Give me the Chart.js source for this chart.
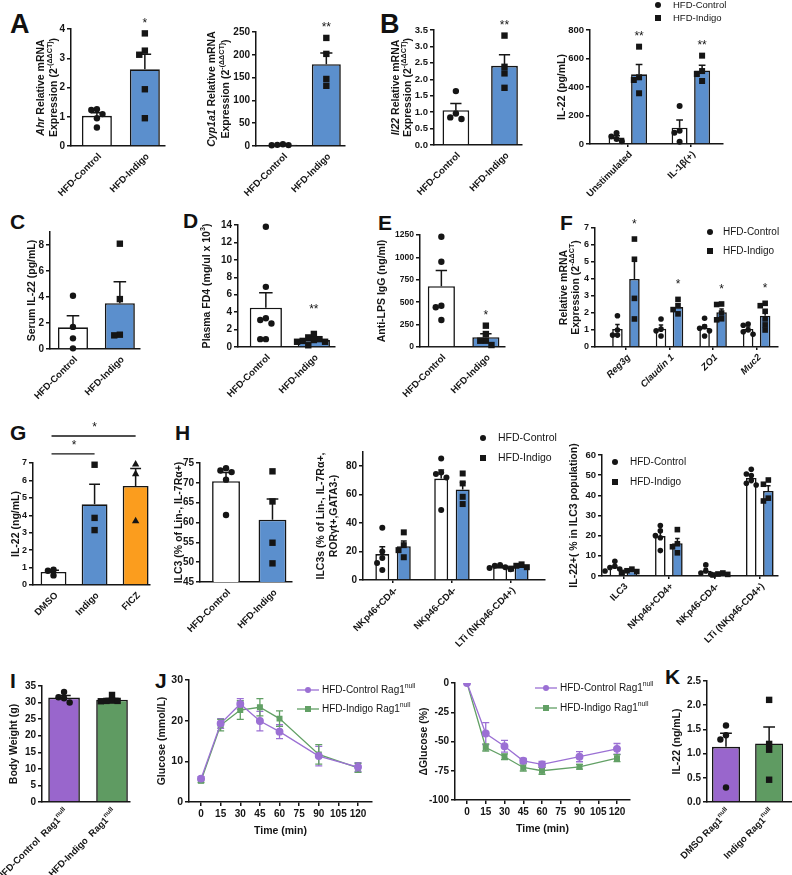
<!DOCTYPE html>
<html>
<head>
<meta charset="utf-8">
<script src="https://cdn.jsdelivr.net/npm/chart.js@4.4.1/dist/chart.umd.min.js"></script>
<style>
  body { margin: 0; background: #fff; }
  #fig { position: relative; width: 792px; height: 875px; overflow: hidden; font-family: "Liberation Sans", Arial, sans-serif; }
  #fig canvas { position: absolute; }
  .lt { position: absolute; font-weight: bold; font-size: 21px; line-height: 21px; color: #111; }
  .big { font-size: 27px; line-height: 27px; }
</style>
</head>
<body>
<div id="fig">
  <div class="lt big" style="left:10px;top:11px">A</div>
  <div class="lt big" style="left:380px;top:11px">B</div>
  <div class="lt" style="left:10px;top:211px">C</div>
  <div class="lt" style="left:183px;top:210px">D</div>
  <div class="lt" style="left:378px;top:212px">E</div>
  <div class="lt" style="left:560px;top:212px">F</div>
  <div class="lt" style="left:10px;top:422px">G</div>
  <div class="lt" style="left:175px;top:422px">H</div>
  <div class="lt" style="left:10px;top:670px">I</div>
  <div class="lt" style="left:155px;top:670px">J</div>
  <div class="lt" style="left:665px;top:666px">K</div>
</div>
<script>
// ---------- data ----------
const dietGroups = ['HFD-Control', 'HFD-Indigo'];

// A: Ahr / Cyp1a1 mRNA
const ahrMean = [1.03, 2.62];
const ahrSem = [0.11, 0.52];
const ahrCtrlPts = [1.26, 1.23, 1.09, 0.95, 0.63];
const ahrIndPts = [3.85, 3.26, 3.12, 1.94, 0.95];
const ahrStars = ['', '*'];

const cypMean = [2.5, 179.5];
const cypSem = [0.8, 24.4];
const cypCtrlPts = [4, 2.5, 2, 1.5];
const cypIndPts = [237, 202, 147, 132];
const cypStars = ['', '**'];

// B: Il22 mRNA and IL-22 secretion
const il22Mean = [1.06, 2.41];
const il22Sem = [0.2, 0.34];
const il22CtrlPts = [1.64, 0.96, 0.84, 0.79];
const il22IndPts = [3.33, 2.38, 2.18, 1.74];
const il22Stars = ['', '**'];

const stimLabels = ['Unstimulated', 'IL-1β(+)'];
const stimCtrlMean = [46, 114];
const stimCtrlSem = [12, 54];
const stimCtrlPts = [[78, 52, 35, 20], [267, 93, 79, 16]];
const stimIndMean = [489, 516];
const stimIndSem = [69, 37];
const stimIndPts = [[683, 468, 449, 356], [620, 512, 491, 442]];
const stimIndStars = ['**', '**'];

// C, D, E
const serumMean = [1.67, 3.52];
const serumSem = [0.88, 1.66];
const serumCtrlPts = [4.1, 1.7, 0.82, 0.05];
const serumIndPts = [8.1, 3.84, 1.1, 1.05];

const fd4Mean = [4.51, 0.8];
const fd4Sem = [1.72, 0.14];
const fd4CtrlPts = [13.8, 6.9, 3.3, 3.1, 2.7, 0.9, 0.9];
const fd4IndPts = [1.5, 1.1, 0.9, 0.8, 0.7, 0.6, 0.6, 0.2];
const fd4Stars = ['', '**'];

const lpsMean = [678, 109];
const lpsSem = [177, 38];
const lpsCtrlPts = [1231, 952, 461, 443, 301];
const lpsIndPts = [238, 145, 70, 70, 22];
const lpsStars = ['', '*'];

// F: barrier genes
const geneLabels = ['Reg3g', 'Claudin 1', 'ZO1', 'Muc2'];
const geneCtrlMean = [1.06, 1.08, 1.12, 1.06];
const geneCtrlSem = [0.27, 0.21, 0.17, 0.12];
const geneCtrlPts = [[1.84, 1.0, 0.7, 0.7], [1.65, 1.05, 0.95, 0.65], [1.69, 1.2, 1.1, 0.95, 0.65], [1.35, 1.28, 1.0, 0.9, 0.75]];
const geneIndMean = [4.0, 2.35, 2.05, 1.84];
const geneIndSem = [1.07, 0.18, 0.19, 0.25];
const geneIndPts = [[6.35, 5.16, 2.86, 1.65], [2.8, 2.43, 2.2, 1.95], [2.53, 2.5, 2.0, 1.66, 1.6], [2.57, 2.43, 2.1, 1.65, 1.3, 1.0]];
const geneIndStars = ['*', '*', '*', '*'];

// G: IL-22 after treatment
const treatLabels = ['DMSO', 'Indigo', 'FICZ'];
const treatMean = [0.75, 4.63, 5.68];
const treatSem = [0.1, 1.15, 1.0];
const treatPts = [[0.88, 0.82, 0.55], [6.9, 3.85, 3.15], [6.95, 6.4, 3.7]];

// H: ILC3 populations
const ilc3Mean = [70.4, 60.7];
const ilc3Sem = [2.2, 5.2];
const ilc3CtrlPts = [73.7, 73.1, 72.7, 70.8, 61.9];
const ilc3IndPts = [72.9, 65.3, 54.9, 49.7];

const subsetLabels = ['NKp46+CD4-', 'NKp46-CD4-', 'LTi (NKp46-CD4+)'];
const subCtrlMean = [18.2, 71.3, 9.1];
const subCtrlSem = [5.1, 6.0, 0.5];
const subCtrlPts = [[36.8, 20, 15.4, 11.9, 7], [85.4, 75.5, 74.5, 72, 49.2], [10.5, 10, 9, 8.5, 7.5]];
const subIndMean = [23.75, 63.7, 9.5];
const subIndSem = [3.7, 4.8, 0.65];
const subIndPts = [[33.5, 24.5, 21, 16], [74.9, 67.9, 58.5, 53.4], [11, 10, 9, 8]];

const il22SubLabels = ['ILC3', 'NKp46+CD4+', 'NKp46-CD4-', 'LTi (NKp46-CD4+)'];
const il22SubCtrlMean = [4.46, 19.8, 2.6, 48.6];
const il22SubCtrlSem = [0.8, 2.0, 1.0, 1.2];
const il22SubCtrlPts = [[7.3, 4.8, 4.2, 3.5, 2.5], [25, 22.4, 20, 19, 12.6], [5.5, 2.5, 1.5, 1.0], [52.9, 50.6, 49.8, 47.3, 46, 45.1]];
const il22SubIndMean = [2.5, 16.25, 0.95, 42.2];
const il22SubIndSem = [0.35, 2.4, 0.2, 2.6];
const il22SubIndPts = [[3.4, 2.6, 2.2, 1.8], [23, 16, 14.5, 11.5], [1.5, 1.0, 0.8, 0.5], [47.6, 45.5, 38.6, 37.2]];

// I, J, K: Rag1 null mice
const ragGroups = ['HFD-Control  Rag1<sup>null</sup>', 'HFD-Indigo  Rag1<sup>null</sup>'];
const bwMean = [31.5, 30.86];
const bwSem = [0.67, 0.37];
const bwCtrlPts = [33.2, 31.6, 31.3, 30.0];
const bwIndPts = [32.3, 30.6, 30.5, 30.5, 30.4];

const timeTicks = [0, 15, 30, 45, 60, 75, 90, 105, 120];
const glucTimes = [0, 15, 30, 45, 60, 90, 120];
const glucCtrl = [5.75, 19.3, 24.1, 19.9, 17.3, 11.3, 8.6];
const glucCtrlErr = [0.5, 1.2, 1.3, 2.4, 1.7, 2.4, 1.1];
const glucInd = [5.2, 18.9, 22.6, 23.3, 20.5, 11.7, 8.4];
const glucIndErr = [0.4, 1.4, 2.3, 2.1, 1.9, 2.4, 1.1];
const dGlucCtrl = [0, -43.2, -54, -66.5, -69.6, -63, -56.3];
const dGlucCtrlErr = [0, 9.4, 5, 2, 2.5, 4.3, 4.6];
const dGlucInd = [0, -55.1, -63, -72.2, -75, -71.6, -64.2];
const dGlucIndErr = [0, 3, 2.5, 3, 3, 2, 3];

const ragTreat = ['DMSO Rag1<sup>null</sup>', 'Indigo Rag1<sup>null</sup>'];
const kMean = [1.14, 1.21];
const kSem = [0.28, 0.34];
const kCtrlPts = [1.58, 1.38, 1.29, 0.3];
const kIndPts = [2.11, 1.2, 1.08, 0.46];

// ---------- styling ----------
const FAM = '"Liberation Sans", Arial, sans-serif';
const INK = '#151515';
const BLUE = '#5b8fcd';
const PURPLE = '#9966cc';
const GREEN = '#5f9b62';
const ORANGE = '#fb9d1e';
const LPURPLE = '#9b70d4';
const LGREEN = '#62a065';

Chart.defaults.font.family = FAM;
Chart.defaults.font.weight = 'bold';
Chart.defaults.color = INK;
Chart.defaults.animation = false;
Chart.defaults.plugins.legend.display = false;
Chart.defaults.plugins.tooltip.enabled = false;

// text with <i>..</i> and <sup>..</sup>
function rich(ctx, str, x, y, size, align, weight, style) {
  const st = style || 'normal';
  const segs = str.split(/(<i>.*?<\/i>|<sup>.*?<\/sup>)/).filter(s => s).map(p => {
    if (p.startsWith('<i>')) return { t: p.slice(3, -4), f: `italic ${weight} ${size}px ${FAM}`, dy: 0 };
    if (p.startsWith('<sup>')) return { t: p.slice(5, -6), f: `${st} ${weight} ${size * 0.68}px ${FAM}`, dy: -size * 0.4 };
    return { t: p, f: `${st} ${weight} ${size}px ${FAM}`, dy: 0 };
  });
  let w = 0;
  segs.forEach(s => { ctx.font = s.f; s.w = ctx.measureText(s.t).width; w += s.w; });
  let cx = align === 'right' ? x - w : align === 'left' ? x : x - w / 2;
  ctx.textAlign = 'left';
  ctx.textBaseline = 'middle';
  segs.forEach(s => { ctx.font = s.f; ctx.fillText(s.t, cx, y + s.dy); cx += s.w; });
}

function marker(ctx, shape, x, y, r, color) {
  ctx.fillStyle = color || INK;
  ctx.beginPath();
  if (shape === 'square') ctx.rect(x - r, y - r, 2 * r, 2 * r);
  else if (shape === 'triangle') { ctx.moveTo(x, y - r * 1.2); ctx.lineTo(x + r * 1.15, y + r * 0.85); ctx.lineTo(x - r * 1.15, y + r * 0.85); ctx.closePath(); }
  else ctx.arc(x, y, r, 0, Math.PI * 2);
  ctx.fill();
}

// error bars, dots and stars, read from the datasets
Chart.register({
  id: 'marks',
  beforeDatasetsDraw(chart) {
    const ctx = chart.ctx, y = chart.scales.y;
    chart.data.datasets.forEach((ds, i) => {
      if (!ds.err) return;
      ctx.save();
      ctx.strokeStyle = ds.borderColor;
      ctx.lineWidth = 1.3;
      chart.getDatasetMeta(i).data.forEach((pt, j) => {
        const e = ds.err[j];
        if (!e) return;
        const v = ds.data[j].y;
        const y1 = y.getPixelForValue(v + e), y2 = y.getPixelForValue(v - e);
        ctx.beginPath();
        ctx.moveTo(pt.x, y1); ctx.lineTo(pt.x, y2);
        ctx.moveTo(pt.x - 3.5, y1); ctx.lineTo(pt.x + 3.5, y1);
        ctx.moveTo(pt.x - 3.5, y2); ctx.lineTo(pt.x + 3.5, y2);
        ctx.stroke();
      });
      ctx.restore();
    });
  },
  afterDatasetsDraw(chart) {
    const ctx = chart.ctx, y = chart.scales.y;
    chart.data.datasets.forEach((ds, i) => {
      if (!ds.pts) return;
      chart.getDatasetMeta(i).data.forEach((bar, j) => {
        const m = ds.data[j].y;
        const top = y.getPixelForValue(m + ds.sem[j]);
        ctx.save();
        ctx.strokeStyle = INK;
        ctx.lineWidth = 1.5;
        const cw = bar.width * 0.42;
        ctx.beginPath();
        ctx.moveTo(bar.x, bar.y); ctx.lineTo(bar.x, top);
        ctx.moveTo(bar.x - cw / 2, top); ctx.lineTo(bar.x + cw / 2, top);
        ctx.stroke();
        const shape = Array.isArray(ds.shape) ? ds.shape[j] : ds.shape;
        const r = ds.ms;
        const d = r * 1.75;
        const placed = [];
        let minY = top;
        ds.pts[j].forEach(v => {
          const py = y.getPixelForValue(v);
          let off = 0;
          for (let k = 0; k < 14; k++) {
            off = (k % 2 ? -1 : 1) * Math.ceil(k / 2) * d;
            if (placed.every(p => Math.hypot(p.x - off, p.y - py) >= d)) break;
          }
          placed.push({ x: off, y: py });
          marker(ctx, shape, bar.x + off, py, r);
          minY = Math.min(minY, py - r);
        });
        if (ds.stars && ds.stars[j]) {
          const sy = ds.starAt != null ? y.getPixelForValue(ds.starAt) : minY - ds.starGap;
          ctx.fillStyle = INK;
          ctx.font = `normal 12px ${FAM}`;
          ctx.textAlign = 'center';
          ctx.textBaseline = 'middle';
          ctx.fillText(ds.stars[j], bar.x, sy);
        }
        ctx.restore();
      });
    });
  }
});

// titles, rotated category labels, legends, brackets
function deco(o) {
  return {
    id: 'deco',
    afterDraw(chart) {
      const ctx = chart.ctx, a = chart.chartArea, y = chart.scales.y, xs = chart.scales.x;
      ctx.save();
      ctx.fillStyle = INK;
      (o.ytitle || []).forEach(t => {
        ctx.save();
        ctx.translate(a.left + t.dx, (a.top + a.bottom) / 2 + (t.dy || 0));
        ctx.rotate(-Math.PI / 2);
        rich(ctx, t.text, 0, 0, o.tfs || 10.5, 'center', 'bold');
        ctx.restore();
      });
      (o.labels || []).forEach((lab, j) => {
        ctx.save();
        ctx.translate(xs.getPixelForValue(j) + 3, a.bottom + (o.xdy || 9));
        ctx.rotate(-Math.PI / 4);
        rich(ctx, lab, 0, 0, o.xfs || 9.5, 'right', 'bold', o.xstyle);
        ctx.restore();
      });
      if (o.legend) {
        const L = o.legend;
        L.items.forEach((it, k) => {
          const mx = a.left + L.x, my = a.top + L.y + k * L.gap;
          if (it.line) {
            ctx.strokeStyle = it.color; ctx.lineWidth = 1.3;
            ctx.beginPath(); ctx.moveTo(mx - 11, my); ctx.lineTo(mx + 11, my); ctx.stroke();
          }
          marker(ctx, it.shape, mx, my, L.r || 3, it.color);
          ctx.fillStyle = INK;
          rich(ctx, it.text, mx + L.tx, my, L.fs || 9.5, 'left', 'normal');
        });
      }
      (o.sig || []).forEach(s => {
        const x1 = xs.getPixelForValue(s.a), x2 = xs.getPixelForValue(s.b), sy = y.getPixelForValue(s.at);
        ctx.strokeStyle = INK; ctx.lineWidth = 1.3;
        ctx.beginPath(); ctx.moveTo(x1 - 2, sy); ctx.lineTo(x2, sy); ctx.stroke();
        ctx.fillStyle = INK;
        ctx.font = `normal 12px ${FAM}`;
        ctx.textAlign = 'center'; ctx.textBaseline = 'middle';
        ctx.fillText(s.text, (x1 + x2) / 2, sy - 8);
      });
      ctx.restore();
    }
  };
}

function place(b) {
  const c = document.createElement('canvas');
  const w = b.R - b.L + b.yw + b.pr, h = b.B - b.T + b.pt + b.xh;
  c.width = w; c.height = h;
  c.style.left = (b.L - b.yw) + 'px';
  c.style.top = (b.T - b.pt) + 'px';
  c.style.width = w + 'px';
  c.style.height = h + 'px';
  document.getElementById('fig').appendChild(c);
  return c;
}

function yAxis(b, o) {
  return {
    min: o.ymin || 0, max: o.ymax,
    afterFit: s => { s.width = b.yw; },
    border: { color: INK, width: 1.5 },
    grid: { drawOnChartArea: false, color: INK, lineWidth: 1.5, tickLength: 4 },
    ticks: { stepSize: o.ystep, font: { size: o.yfs || 10, weight: 'bold' }, color: INK, padding: 2,
      callback: v => o.dec ? v.toFixed(o.dec) : v }
  };
}

function barChart(b, o) {
  const datasets = o.sets.map(s => ({
    data: s.mean.map((m, j) => ({ x: j, y: m })),
    backgroundColor: s.fill, borderColor: INK, borderWidth: 1.6,
    barPercentage: o.barPct, categoryPercentage: o.catPct || 1,
    sem: s.sem, pts: s.pts, shape: s.shape, stars: s.stars,
    starAt: o.starAt, starGap: o.starGap || 7, ms: o.ms || 3.2
  }));
  return new Chart(place(b), {
    type: 'bar',
    data: { datasets },
    options: {
      responsive: false,
      layout: { padding: { top: b.pt, right: b.pr, left: 0, bottom: 0 } },
      scales: {
        x: {
          type: 'linear', min: o.xmin, max: o.xmax, offset: false, bounds: 'data',
          afterFit: s => { s.height = b.xh; },
          afterBuildTicks: s => { s.ticks = o.labels.map((_, j) => ({ value: j })); },
          border: { color: INK, width: 1.5 },
          grid: { display: !!o.xticks, offset: false, drawOnChartArea: false, color: INK, lineWidth: 1.5, tickLength: 3 },
          ticks: { display: false }
        },
        y: yAxis(b, o)
      }
    },
    plugins: [deco(o)]
  });
}

function lineChart(b, o) {
  const datasets = o.sets.map(s => ({
    data: glucTimes.map((t, i) => ({ x: t, y: s.vals[i] })),
    err: s.err, borderColor: s.color, backgroundColor: s.color,
    pointBackgroundColor: s.color, pointBorderColor: s.color,
    pointStyle: s.shape === 'square' ? 'rect' : 'circle', pointRadius: 3.3,
    borderWidth: 1.3, tension: 0
  }));
  return new Chart(place(b), {
    type: 'line',
    data: { datasets },
    options: {
      responsive: false,
      layout: { padding: { top: b.pt, right: b.pr, left: 0, bottom: 0 } },
      scales: {
        x: {
          type: 'linear', min: o.xmin, max: o.xmax,
          afterFit: s => { s.height = b.xh; },
          afterBuildTicks: s => { s.ticks = timeTicks.map(v => ({ value: v })); },
          border: { color: INK, width: 1.5 },
          grid: { drawOnChartArea: false, color: INK, lineWidth: 1.5, tickLength: 4 },
          ticks: { autoSkip: false, maxRotation: 0, font: { size: 10, weight: 'bold' }, color: INK, padding: 2 },
          title: { display: true, text: 'Time (min)', font: { size: 10.5, weight: 'bold' }, color: INK, padding: 0 }
        },
        y: yAxis(b, o)
      }
    },
    plugins: [deco(o)]
  });
}

const dietLegend = (x, y, gap, tx, fs) => ({
  x, y, gap, tx, fs,
  items: [{ text: 'HFD-Control', shape: 'circle' }, { text: 'HFD-Indigo', shape: 'square' }]
});
const ragLegend = (x, y, gap, tx) => ({
  x, y, gap, tx, fs: 10, r: 3,
  items: [
    { text: 'HFD-Control Rag1<sup>null</sup>', shape: 'circle', color: LPURPLE, line: true },
    { text: 'HFD-Indigo Rag1<sup>null</sup>', shape: 'square', color: LGREEN, line: true }
  ]
});

// ---------- row 1 ----------
barChart({ L: 71, T: 29, R: 165, B: 146, yw: 60, xh: 60, pt: 25, pr: 5 }, {
  labels: dietGroups, xmin: -0.54, xmax: 1.42, barPct: 0.625, ymax: 4, ystep: 1,
  ytitle: [{ text: '<i>Ahr</i> Relative mRNA', dx: -30 }, { text: 'Expression (2<sup>-(ΔΔCT)</sup>)', dx: -17 }],
  sets: [{ mean: ahrMean, sem: ahrSem, pts: [ahrCtrlPts, ahrIndPts], fill: ['#fff', BLUE], shape: ['circle', 'square'], stars: ahrStars }]
});
barChart({ L: 256, T: 32, R: 345, B: 146, yw: 60, xh: 60, pt: 28, pr: 5 }, {
  labels: dietGroups, xmin: -0.62, xmax: 1.43, barPct: 0.667, ymax: 250, ystep: 50,
  ytitle: [{ text: '<i>Cyp1a1</i> Relative mRNA', dx: -44 }, { text: 'Expression (2<sup>-(ΔΔCT)</sup>)', dx: -30 }],
  sets: [{ mean: cypMean, sem: cypSem, pts: [cypCtrlPts, cypIndPts], fill: ['#fff', BLUE], shape: ['circle', 'square'], stars: cypStars }]
});
barChart({ L: 434, T: 30, R: 522, B: 145, yw: 50, xh: 60, pt: 28, pr: 5 }, {
  labels: dietGroups, xmin: -0.45, xmax: 1.36, barPct: 0.55, ymax: 3.5, ystep: 0.5, dec: 1, yfs: 9.5,
  ytitle: [{ text: '<i>Il22</i> Relative mRNA', dx: -38 }, { text: 'Expression (2<sup>-(ΔΔCT)</sup>)', dx: -26 }],
  sets: [{ mean: il22Mean, sem: il22Sem, pts: [il22CtrlPts, il22IndPts], fill: ['#fff', BLUE], shape: ['circle', 'square'], stars: il22Stars }]
});
barChart({ L: 590, T: 30, R: 723, B: 144, yw: 45, xh: 60, pt: 30, pr: 69 }, {
  labels: stimLabels, xmin: -0.6, xmax: 1.51, catPct: 0.714, barPct: 0.71, ymax: 800, ystep: 200, xticks: true, ms: 3, yfs: 9.5,
  ytitle: [{ text: 'IL-22 (pg/mL)', dx: -28 }],
  legend: dietLegend(68, -25, 13, 15, 9.5),
  sets: [
    { mean: stimCtrlMean, sem: stimCtrlSem, pts: stimCtrlPts, fill: '#fff', shape: 'circle' },
    { mean: stimIndMean, sem: stimIndSem, pts: stimIndPts, fill: BLUE, shape: 'square', stars: stimIndStars }
  ]
});

// ---------- row 2 ----------
barChart({ L: 50, T: 232, R: 140, B: 349, yw: 50, xh: 60, pt: 22, pr: 5 }, {
  labels: dietGroups, xmin: -0.49, xmax: 1.43, barPct: 0.64, ymax: 9, ystep: 1,
  ytitle: [{ text: 'Serum IL-22 (pg/mL)', dx: -18 }],
  sets: [{ mean: serumMean, sem: serumSem, pts: [serumCtrlPts, serumIndPts], fill: ['#fff', BLUE], shape: ['circle', 'square'] }]
});
barChart({ L: 238, T: 225, R: 335, B: 347, yw: 50, xh: 60, pt: 15, pr: 5 }, {
  labels: dietGroups, xmin: -0.58, xmax: 1.44, barPct: 0.67, ymax: 14, ystep: 2, starAt: 4.3,
  ytitle: [{ text: 'Plasma FD4 (mg/ul x 10<sup>3</sup>)', dx: -31 }],
  sets: [{ mean: fd4Mean, sem: fd4Sem, pts: [fd4CtrlPts, fd4IndPts], fill: ['#fff', BLUE], shape: ['circle', 'square'], stars: fd4Stars }]
});
barChart({ L: 420, T: 235, R: 505, B: 347, yw: 50, xh: 60, pt: 15, pr: 5 }, {
  labels: dietGroups, xmin: -0.48, xmax: 1.43, barPct: 0.61, ymax: 1250, ystep: 250, yfs: 8.5,
  ytitle: [{ text: 'Anti-LPS IgG (ng/ml)', dx: -38 }],
  sets: [{ mean: lpsMean, sem: lpsSem, pts: [lpsCtrlPts, lpsIndPts], fill: ['#fff', BLUE], shape: ['circle', 'square'], stars: lpsStars }]
});
barChart({ L: 595, T: 228, R: 778, B: 347, yw: 50, xh: 45, pt: 15, pr: 14 }, {
  labels: geneLabels, xstyle: 'italic', xmin: -0.71, xmax: 3.49, catPct: 0.78, barPct: 0.62, ymax: 7, ystep: 1, yfs: 9,
  xticks: true, ms: 2.8, starGap: 12,
  ytitle: [{ text: 'Relative mRNA', dx: -31 }, { text: 'Expression (2<sup>-ΔΔCT</sup>)', dx: -19 }],
  legend: dietLegend(115, 4, 19, 13, 10),
  sets: [
    { mean: geneCtrlMean, sem: geneCtrlSem, pts: geneCtrlPts, fill: '#fff', shape: 'circle' },
    { mean: geneIndMean, sem: geneIndSem, pts: geneIndPts, fill: BLUE, shape: 'square', stars: geneIndStars }
  ]
});

// ---------- row 3 ----------
barChart({ L: 33, T: 463, R: 150, B: 585, yw: 33, xh: 60, pt: 45, pr: 5 }, {
  labels: treatLabels, xmin: -0.5, xmax: 2.35, barPct: 0.63, ymax: 7, ystep: 1, yfs: 9,
  ytitle: [{ text: 'IL-22 (ng/mL)', dx: -17 }],
  sig: [{ a: 0, b: 1, at: 7.52, text: '*' }, { a: 0, b: 2, at: 8.55, text: '*' }],
  sets: [{ mean: treatMean, sem: treatSem, pts: treatPts, fill: ['#fff', BLUE, ORANGE], shape: ['circle', 'square', 'triangle'] }]
});
barChart({ L: 200, T: 463, R: 292, B: 582, yw: 40, xh: 70, pt: 10, pr: 5 }, {
  labels: dietGroups, xmin: -0.56, xmax: 1.42, barPct: 0.6, ymin: 45, ymax: 75, ystep: 5,
  ytitle: [{ text: 'ILC3 (% of Lin-, IL-7Rα+)', dx: -21 }],
  sets: [{ mean: ilc3Mean, sem: ilc3Sem, pts: [ilc3CtrlPts, ilc3IndPts], fill: ['#fff', BLUE], shape: ['circle', 'square'] }]
});
barChart({ L: 363, T: 452, R: 545, B: 580, yw: 50, xh: 75, pt: 25, pr: 32 }, {
  labels: subsetLabels, xmin: -0.51, xmax: 2.58, catPct: 0.73, barPct: 0.65, ymax: 90, ystep: 10,
  xticks: true, ms: 3,
  ytitle: [{ text: 'ILC3s (% of Lin-, IL-7Rα+,', dx: -42 }, { text: 'RORγt+,GATA3-)', dx: -29 }],
  legend: dietLegend(120, -14, 20, 15, 10.5),
  sets: [
    { mean: subCtrlMean, sem: subCtrlSem, pts: subCtrlPts, fill: '#fff', shape: 'circle' },
    { mean: subIndMean, sem: subIndSem, pts: subIndPts, fill: BLUE, shape: 'square' }
  ]
});
barChart({ L: 602, T: 455, R: 778, B: 576, yw: 35, xh: 75, pt: 32, pr: 14 }, {
  labels: il22SubLabels, xmin: -0.47, xmax: 3.4, catPct: 0.75, barPct: 0.62, ymax: 60, ystep: 10, yfs: 9.5,
  xticks: true, ms: 2.8,
  ytitle: [{ text: 'IL-22+( % in ILC3 population)', dx: -28 }],
  legend: dietLegend(13, 7, 20, 15, 10),
  sets: [
    { mean: il22SubCtrlMean, sem: il22SubCtrlSem, pts: il22SubCtrlPts, fill: '#fff', shape: 'circle' },
    { mean: il22SubIndMean, sem: il22SubIndSem, pts: il22SubIndPts, fill: BLUE, shape: 'square' }
  ]
});

// ---------- row 4 ----------
barChart({ L: 42, T: 686, R: 130, B: 802, yw: 42, xh: 75, pt: 10, pr: 5 }, {
  labels: ragGroups, xmin: -0.46, xmax: 1.375, barPct: 0.66, ymax: 35, ystep: 5,
  ytitle: [{ text: 'Body Weight (g)', dx: -28 }],
  sets: [{ mean: bwMean, sem: bwSem, pts: [bwCtrlPts, bwIndPts], fill: [PURPLE, GREEN], shape: ['circle', 'square'] }]
});
lineChart({ L: 189, T: 680, R: 372, B: 802, yw: 40, xh: 35, pt: 10, pr: 45 }, {
  xmin: -9.2, xmax: 130.7, ymax: 30, ystep: 10, yfs: 10.5,
  ytitle: [{ text: 'Glucose (mmol/L)', dx: -27 }],
  legend: ragLegend(119, 10, 19, 14),
  sets: [
    { vals: glucCtrl, err: glucCtrlErr, color: LPURPLE, shape: 'circle' },
    { vals: glucInd, err: glucIndErr, color: LGREEN, shape: 'square' }
  ]
});
lineChart({ L: 455, T: 683, R: 630, B: 800, yw: 40, xh: 35, pt: 10, pr: 40 }, {
  xmin: -9.6, xmax: 130.4, ymin: -100, ymax: 0, ystep: 25, yfs: 10,
  ytitle: [{ text: 'ΔGlucose (%)', dx: -31 }],
  legend: ragLegend(91, 5, 20, 14),
  sets: [
    { vals: dGlucCtrl, err: dGlucCtrlErr, color: LPURPLE, shape: 'circle' },
    { vals: dGlucInd, err: dGlucIndErr, color: LGREEN, shape: 'square' }
  ]
});
barChart({ L: 707, T: 681, R: 792, B: 802, yw: 40, xh: 75, pt: 10, pr: 0 }, {
  labels: ragTreat, xmin: -0.44, xmax: 1.53, barPct: 0.65, ymax: 2.5, ystep: 0.5, dec: 1,
  ytitle: [{ text: 'IL-22 (ng/mL)', dx: -30 }],
  sets: [{ mean: kMean, sem: kSem, pts: [kCtrlPts, kIndPts], fill: [PURPLE, GREEN], shape: ['circle', 'square'] }]
});
</script>
</body>
</html>
